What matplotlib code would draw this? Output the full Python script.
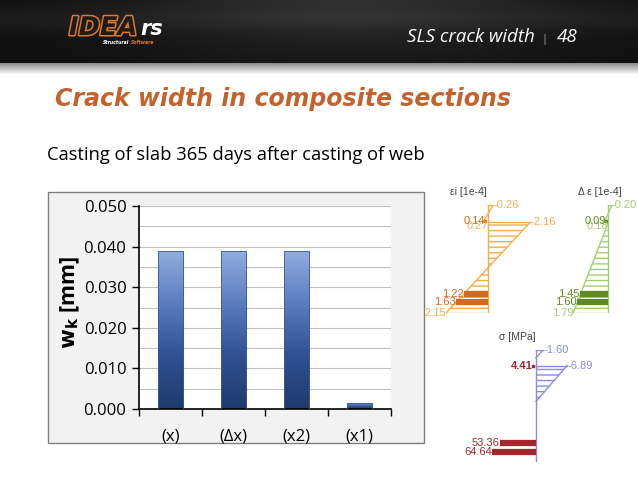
import matplotlib.pyplot as plt
import matplotlib.patheffects as pe
import numpy as np
from matplotlib.colors import LinearSegmentedColormap
from matplotlib.patches import Rectangle

# ---- data ----
categories = ["(x)", "(\u0394x)", "(x2)", "(x1)"]
wk_values = [0.039, 0.039, 0.039, 0.0016]

# section diagrams, depth 0 = top of section, 1 = bottom
# eps_i [1e-4]
eps_slab_depth = [0.0, 0.16]
eps_slab_vals = [0.26, -0.27]
eps_slab_bar = (0.15, -0.14)
eps_web_depth = [0.16, 1.0]
eps_web_vals = [2.16, -2.15]
eps_bar_depth = [0.82, 0.90]
eps_bar_vals = [-1.22, -1.63]

# delta eps [1e-4]
deps_slab_depth = [0.0, 0.16]
deps_slab_vals = [0.20, -0.18]
deps_slab_bar = (0.15, -0.09)
deps_web_depth = [0.17, 1.0]
deps_web_vals = [0.0, -1.79]
deps_bar_depth = [0.82, 0.90]
deps_bar_vals = [-1.45, -1.60]

# sigma [MPa]
sig_slab_depth = [0.0, 0.07]
sig_slab_vals = [1.60, 0.0]
sig_slab_bar = (0.14, -4.41)
sig_web_depth = [0.14, 0.46]
sig_web_vals = [6.89, 0.0]
sig_bar_depth = [0.83, 0.91]
sig_bar_vals = [-53.36, -64.64]

W, H = 638, 479
fig = plt.figure(figsize=(6.38, 4.79), dpi=100)

# ---- slide background in pixel coords ----
bg = fig.add_axes([0, 0, 1, 1])
bg.set_xlim(0, W)
bg.set_ylim(H, 0)
bg.axis('off')

yy = np.linspace(0, 1, 64)[:, None]
xx = np.linspace(0, 1, W)[None, :]
shade = 0.06 + 0.12 * np.exp(-((xx - 0.55) / 0.35) ** 2) * (1 - 0.7 * yy) + 0.04 * np.exp(-((yy - 0.3) / 0.2) ** 2)
bg.imshow(np.dstack([shade] * 3), extent=(0, W, 63, 0), aspect='auto', zorder=0)
fade = np.linspace(0.55, 1.0, 12)[:, None] * np.ones((1, W))
bg.imshow(np.dstack([fade] * 3), extent=(0, W, 75, 63), aspect='auto', zorder=0, vmin=0, vmax=1)

# logo
bg.text(69, 35, "IDEA", color='#1c1c1c', fontsize=18.5, fontweight='heavy', style='italic',
        va='baseline', ha='left', family='DejaVu Sans',
        path_effects=[pe.withStroke(linewidth=2.2, foreground='#E2762A')])
bg.text(140, 35, "rs", color='white', fontsize=15, fontweight='heavy', style='italic',
        va='baseline', ha='left', family='DejaVu Sans')
bg.text(103, 44, "Structural", color='white', fontsize=3.3, fontweight='bold', style='italic', va='baseline')
bg.text(131, 44, "Software", color='#E2762A', fontsize=3.3, fontweight='bold', style='italic', va='baseline')

bg.text(407, 41.5, "SLS crack width", color='white', fontsize=13.5, style='italic',
        family='Open Sans', va='baseline', ha='left')
bg.text(544, 41.5, "|", color='#aaaaaa', fontsize=8, family='Open Sans', va='baseline', ha='center')
bg.text(557, 41.5, "48", color='white', fontsize=13.5, style='italic',
        family='Open Sans', va='baseline', ha='left')

bg.text(55, 106, "Crack width in composite sections", color='#C4622D', fontsize=17,
        fontweight='bold', style='italic', family='DejaVu Sans', va='baseline', ha='left')
bg.text(47, 160, "Casting of slab 365 days after casting of web", color='black', fontsize=13.2,
        family='Open Sans', va='baseline', ha='left')

# chart frame
bg.add_patch(Rectangle((48, 192), 376, 251, facecolor='#F2F2F2', edgecolor='#7F7F7F', lw=1, zorder=1))

# ---- bar chart ----
ax = fig.add_axes([139 / W, 1 - 409 / H, 252 / W, 203 / H])
ax.set_facecolor('white')
x = np.arange(len(categories))
bars = ax.bar(x, wk_values, width=0.4, color='none', edgecolor='#3B5998', linewidth=0.6, zorder=3)
cmap = LinearSegmentedColormap.from_list('bar', ['#1F3A6C', '#2F5193', '#5A7CC0', '#93AEDF'])
grad = np.linspace(0, 1, 256)[:, None]
for b in bars:
    im = ax.imshow(grad, cmap=cmap, origin='lower', aspect='auto', zorder=2,
                   extent=(b.get_x(), b.get_x() + b.get_width(), 0, b.get_height()))
    im.set_clip_path(b)
ax.set_xlim(-0.5, len(categories) - 0.5)
ax.set_ylim(0, 0.05)
ax.set_yticks(np.arange(0, 0.0501, 0.01))
ax.set_yticklabels([f"{v:.3f}" for v in np.arange(0, 0.0501, 0.01)])
ax.set_yticks(np.arange(0, 0.0501, 0.005), minor=True)
ax.grid(True, axis='y', which='both', color='#BFBFBF', lw=0.8, zorder=0)
ax.set_xticks(x)
ax.set_xticklabels(categories)
ax.set_xticks(np.arange(-0.5, len(categories)), minor=True)
ax.tick_params(axis='x', which='major', length=0, pad=14)
ax.tick_params(axis='x', which='minor', length=5, width=1, direction='out')
ax.tick_params(axis='y', which='major', length=5, width=1, direction='out', pad=4)
ax.tick_params(axis='y', which='minor', length=0)
for lab in ax.get_xticklabels() + ax.get_yticklabels():
    lab.set_family('Open Sans')
    lab.set_fontsize(12)
for s in ['top', 'right']:
    ax.spines[s].set_visible(False)
for s in ['left', 'bottom']:
    ax.spines[s].set_color('black')
    ax.spines[s].set_linewidth(1.2)
ax.set_axisbelow(True)
bg.text(70, 302, r"$\mathbf{w_k}$ [mm]", rotation=90, fontsize=15.5, fontweight='bold',
        family='Open Sans', va='center', ha='center')


# ---- section diagrams ----
def diagram(rect, xlim, light, dark, slab_d, slab_v, slab_bar, web_d, web_v, bar_d, bar_v,
            title, title_x, bar_scale=1.0, fs=8):
    d = fig.add_axes(rect)
    d.set_xlim(*xlim)
    d.set_ylim(1, 0)
    d.axis('off')
    d.axvline(0, color=light, lw=1)
    d.plot(slab_v, slab_d, color=light, lw=1)
    d.plot([0, slab_v[0]], [slab_d[0]] * 2, color=light, lw=1)
    d.fill_betweenx(web_d, 0, web_v, facecolor='none', edgecolor=light, hatch='---', lw=0)
    d.plot(web_v, web_d, color=light, lw=1)
    d.plot([0, web_v[0]], [web_d[0]] * 2, color=light, lw=1)
    d.plot([0, web_v[-1]], [web_d[-1]] * 2, color=light, lw=1)
    d.plot([slab_bar[1] * bar_scale], [slab_bar[0]], 's', color=dark, ms=2)
    for dep, v in zip(bar_d, bar_v):
        d.plot([0, v * bar_scale], [dep, dep], color=dark, lw=4.5, solid_capstyle='butt')
        d.text(v * bar_scale, dep, f"{abs(v):.2f}", color=dark, fontsize=fs, ha='right', va='center',
               family='Liberation Sans')
    d.text(slab_v[0], slab_d[0], f"-{abs(slab_v[0]):.2f}", color=light, fontsize=fs, ha='left',
           va='center', family='Liberation Sans')
    if slab_v[-1] != 0:
        d.text(0, slab_d[-1] + 0.03, f"{abs(slab_v[-1]):.2f}", color=light, fontsize=fs, ha='right',
               va='center', family='Liberation Sans')
    d.text(slab_bar[1] * bar_scale, slab_bar[0], f"{abs(slab_bar[1]):.2f}", color=dark, fontsize=fs,
           ha='right', va='center', family='Liberation Sans', fontweight='bold' if bar_scale != 1 else 'normal')
    if web_v[0] != 0:
        d.text(web_v[0], web_d[0], f"-{abs(web_v[0]):.2f}", color=light, fontsize=fs, ha='left',
               va='center', family='Liberation Sans')
    if web_v[-1] != 0:
        d.text(web_v[-1], web_d[-1], f"{abs(web_v[-1]):.2f}", color=light, fontsize=fs, ha='right',
               va='center', family='Liberation Sans')
    d.text(title_x, -0.07, title, color='#404040', fontsize=7.5, ha='center', va='bottom',
           family='Liberation Sans')
    return d


diagram([420 / W, 1 - 313 / H, 130 / W, 108 / H], (-3.49, 3.18), '#F2AE4A', '#D2691E',
        eps_slab_depth, eps_slab_vals, eps_slab_bar, eps_web_depth, eps_web_vals,
        eps_bar_depth, eps_bar_vals, "\u03b5i [1e-4]", -1.0)
diagram([555 / W, 1 - 313 / H, 83 / W, 108 / H], (-2.72, 1.54), '#A8CC72', '#5E8C22',
        deps_slab_depth, deps_slab_vals, deps_slab_bar, deps_web_depth, deps_web_vals,
        deps_bar_depth, deps_bar_vals, "\u0394 \u03b5 [1e-4]", -0.4)
diagram([480 / W, 1 - 462 / H, 120 / W, 112 / H], (-12.4, 14.2), '#8C8CE8', '#A3282B',
        sig_slab_depth, sig_slab_vals, sig_slab_bar, sig_web_depth, sig_web_vals,
        sig_bar_depth, sig_bar_vals, "\u03c3 [MPa]", -4.2, bar_scale=0.15, fs=8)

fig.savefig("out.png", dpi=100)
